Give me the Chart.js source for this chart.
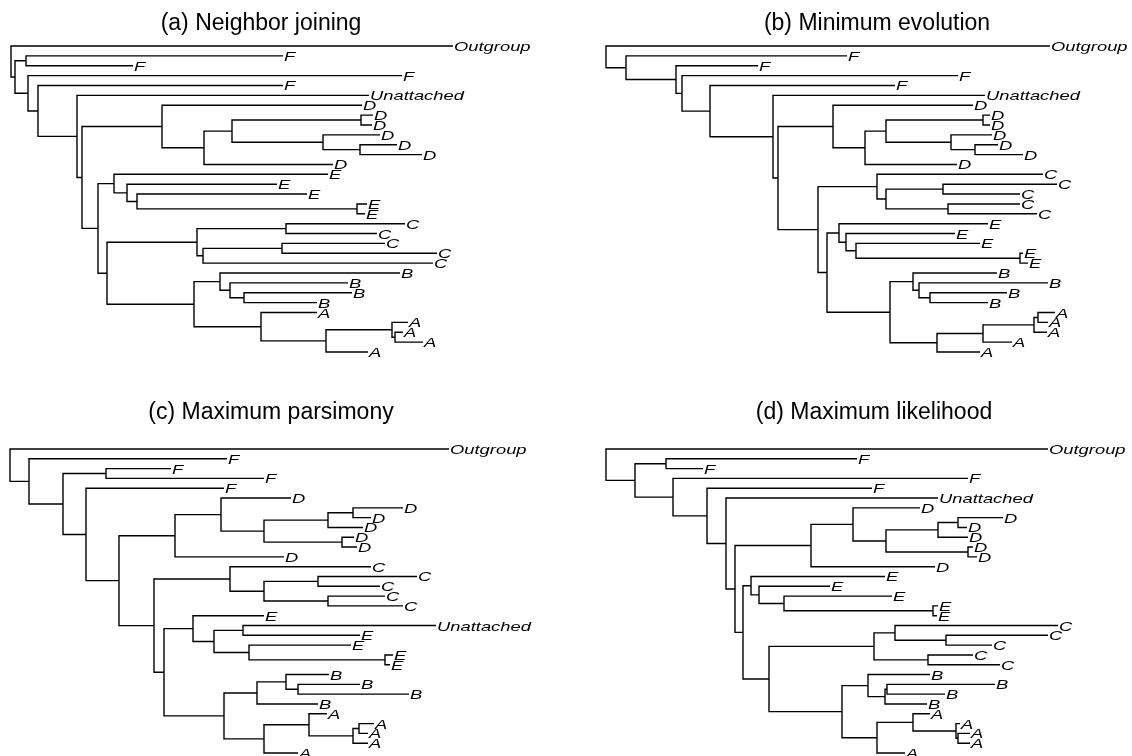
<!DOCTYPE html>
<html>
<head>
<meta charset="utf-8">
<script src="https://cdn.jsdelivr.net/npm/chart.js@4.4.1/dist/chart.umd.min.js"></script>
<style>
  html, body { margin: 0; padding: 0; background: #fff; overflow: hidden; }
  .panel { position: absolute; width: 566px; height: 378px; }
</style>
</head>
<body>
<div class="panel" style="left:0;top:0"><canvas id="treeA" width="566" height="378"></canvas></div>
<div class="panel" style="left:566px;top:0"><canvas id="treeB" width="566" height="378"></canvas></div>
<div class="panel" style="left:0;top:378px"><canvas id="treeC" width="566" height="378"></canvas></div>
<div class="panel" style="left:566px;top:378px"><canvas id="treeD" width="566" height="378"></canvas></div>
<script>
var titles = ['(a) Neighbor joining', '(b) Minimum evolution', '(c) Maximum parsimony', '(d) Maximum likelihood'];

// edge tables: [node, parent, depth from root]
// internal nodes are n0..n30, everything else is a tip label; children keep row order
var treeNJ = [
  ['n0', null, 0],
  ['Outgroup', 'n0', 442],
  ['n1', 'n0', 4],
  ['n2', 'n1', 15], ['F', 'n2', 272], ['F', 'n2', 122],
  ['n3', 'n1', 17], ['F', 'n3', 391],
  ['n4', 'n3', 27], ['F', 'n4', 272],
  ['n5', 'n4', 66], ['Unattached', 'n5', 358],
  ['n6', 'n5', 71],
  ['n7', 'n6', 151], ['D', 'n7', 351],
  ['n9', 'n7', 193],
  ['n10', 'n9', 221],
  ['n11', 'n10', 350], ['D', 'n11', 362], ['D', 'n11', 361],
  ['n12', 'n10', 312], ['D', 'n12', 369],
  ['n13', 'n12', 349], ['D', 'n13', 386], ['D', 'n13', 411],
  ['D', 'n9', 322],
  ['n8', 'n6', 87],
  ['n14', 'n8', 103], ['E', 'n14', 317],
  ['n16', 'n14', 116], ['E', 'n16', 266],
  ['n17', 'n16', 126], ['E', 'n17', 296],
  ['n18', 'n17', 346], ['E', 'n18', 356], ['E', 'n18', 354],
  ['n15', 'n8', 96],
  ['n19', 'n15', 186],
  ['n21', 'n19', 275], ['C', 'n21', 394], ['C', 'n21', 366],
  ['n22', 'n19', 192],
  ['n23', 'n22', 271], ['C', 'n23', 374], ['C', 'n23', 426],
  ['C', 'n22', 422],
  ['n20', 'n15', 183],
  ['n24', 'n20', 209], ['B', 'n24', 389],
  ['n26', 'n24', 219], ['B', 'n26', 337],
  ['n27', 'n26', 233], ['B', 'n27', 341], ['B', 'n27', 306],
  ['n25', 'n20', 250], ['A', 'n25', 306],
  ['n28', 'n25', 315],
  ['n29', 'n28', 381], ['A', 'n29', 397],
  ['n30', 'n29', 384], ['A', 'n30', 392], ['A', 'n30', 412],
  ['A', 'n28', 357]
];

var treeME = [
  ['n0', null, 0],
  ['Outgroup', 'n0', 444],
  ['n1', 'n0', 20], ['F', 'n1', 241],
  ['n2', 'n1', 70], ['F', 'n2', 152],
  ['n3', 'n2', 76], ['F', 'n3', 352],
  ['n4', 'n3', 104], ['F', 'n4', 289],
  ['n5', 'n4', 167], ['Unattached', 'n5', 379],
  ['n6', 'n5', 172],
  ['n7', 'n6', 227], ['D', 'n7', 367],
  ['n9', 'n7', 259],
  ['n10', 'n9', 280],
  ['n11', 'n10', 377], ['D', 'n11', 384], ['D', 'n11', 384],
  ['n12', 'n10', 345], ['D', 'n12', 386],
  ['n13', 'n12', 369], ['D', 'n13', 392], ['D', 'n13', 417],
  ['D', 'n9', 351],
  ['n8', 'n6', 212],
  ['n14', 'n8', 271], ['C', 'n14', 437],
  ['n16', 'n14', 280],
  ['n17', 'n16', 337], ['C', 'n17', 451], ['C', 'n17', 414],
  ['n18', 'n16', 342], ['C', 'n18', 414], ['C', 'n18', 431],
  ['n15', 'n8', 221],
  ['n19', 'n15', 233], ['E', 'n19', 382],
  ['n21', 'n19', 240], ['E', 'n21', 349],
  ['n22', 'n21', 250], ['E', 'n22', 374],
  ['n23', 'n22', 414], ['E', 'n23', 417], ['E', 'n23', 422],
  ['n20', 'n15', 284],
  ['n24', 'n20', 307], ['B', 'n24', 391],
  ['n26', 'n24', 313], ['B', 'n26', 442],
  ['n27', 'n26', 324], ['B', 'n27', 401], ['B', 'n27', 382],
  ['n25', 'n20', 331],
  ['n28', 'n25', 377],
  ['n29', 'n28', 428],
  ['n30', 'n29', 432], ['A', 'n30', 449], ['A', 'n30', 442],
  ['A', 'n29', 441],
  ['A', 'n28', 406],
  ['A', 'n25', 374]
];

var treeMP = [
  ['n0', null, 0],
  ['Outgroup', 'n0', 439],
  ['n1', 'n0', 19], ['F', 'n1', 217],
  ['n2', 'n1', 53],
  ['n3', 'n2', 96], ['F', 'n3', 161], ['F', 'n3', 254],
  ['n4', 'n2', 76], ['F', 'n4', 214],
  ['n5', 'n4', 109],
  ['n6', 'n5', 165],
  ['n8', 'n6', 211], ['D', 'n8', 281],
  ['n9', 'n8', 254],
  ['n10', 'n9', 318],
  ['n12', 'n10', 343], ['D', 'n12', 393], ['D', 'n12', 361],
  ['D', 'n10', 353],
  ['n11', 'n9', 332], ['D', 'n11', 344], ['D', 'n11', 347],
  ['D', 'n6', 274],
  ['n7', 'n5', 144],
  ['n13', 'n7', 220], ['C', 'n13', 361],
  ['n15', 'n13', 254],
  ['n16', 'n15', 308], ['C', 'n16', 407], ['C', 'n16', 370],
  ['n17', 'n15', 318], ['C', 'n17', 375], ['C', 'n17', 393],
  ['n14', 'n7', 154],
  ['n18', 'n14', 183], ['E', 'n18', 254],
  ['n20', 'n18', 204],
  ['n21', 'n20', 233], ['Unattached', 'n21', 426], ['E', 'n21', 350],
  ['n22', 'n20', 239], ['E', 'n22', 341],
  ['n23', 'n22', 375], ['E', 'n23', 383], ['E', 'n23', 380],
  ['n19', 'n14', 214],
  ['n24', 'n19', 247],
  ['n26', 'n24', 276], ['B', 'n26', 319],
  ['n27', 'n26', 288], ['B', 'n27', 350], ['B', 'n27', 399],
  ['B', 'n24', 308],
  ['n25', 'n19', 254],
  ['n28', 'n25', 299], ['A', 'n28', 317],
  ['n29', 'n28', 343],
  ['n30', 'n29', 349], ['A', 'n30', 364], ['A', 'n30', 358],
  ['A', 'n29', 358],
  ['A', 'n25', 288]
];

var treeML = [
  ['n0', null, 0],
  ['Outgroup', 'n0', 442],
  ['n1', 'n0', 29],
  ['n2', 'n1', 60], ['F', 'n2', 251], ['F', 'n2', 97],
  ['n3', 'n1', 67], ['F', 'n3', 362],
  ['n4', 'n3', 101], ['F', 'n4', 266],
  ['n5', 'n4', 120], ['Unattached', 'n5', 332],
  ['n6', 'n5', 129],
  ['n7', 'n6', 205],
  ['n9', 'n7', 247], ['D', 'n9', 314],
  ['n10', 'n9', 280],
  ['n11', 'n10', 332],
  ['n13', 'n11', 352], ['D', 'n13', 397], ['D', 'n13', 361],
  ['D', 'n11', 362],
  ['n12', 'n10', 362], ['D', 'n12', 367], ['D', 'n12', 371],
  ['D', 'n7', 329],
  ['n8', 'n6', 137],
  ['n14', 'n8', 145], ['E', 'n14', 279],
  ['n16', 'n14', 153], ['E', 'n16', 224],
  ['n17', 'n16', 178], ['E', 'n17', 286],
  ['n18', 'n17', 327], ['E', 'n18', 332], ['E', 'n18', 331],
  ['n15', 'n8', 163],
  ['n19', 'n15', 268],
  ['n21', 'n19', 289], ['C', 'n21', 452],
  ['n23', 'n21', 340], ['C', 'n23', 442], ['C', 'n23', 386],
  ['n22', 'n19', 322], ['C', 'n22', 367], ['C', 'n22', 394],
  ['n20', 'n15', 236],
  ['n24', 'n20', 262], ['B', 'n24', 324],
  ['n26', 'n24', 279],
  ['n27', 'n26', 281], ['B', 'n27', 389], ['B', 'n27', 339],
  ['B', 'n26', 321],
  ['n25', 'n20', 271],
  ['n28', 'n25', 307], ['A', 'n28', 324],
  ['n29', 'n28', 350], ['A', 'n29', 354],
  ['n30', 'n29', 352], ['A', 'n30', 364], ['A', 'n30', 364],
  ['A', 'n25', 299]
];

// where each panel sits inside its 566x378 canvas
var panels = [
  { id: 'treeA', tree: treeNJ, rootPx: 11, tipTop: 46, tipBot: 352, titleCx: 261, titleBase: 32 },
  { id: 'treeB', tree: treeME, rootPx: 40, tipTop: 46, tipBot: 352, titleCx: 311, titleBase: 32 },
  { id: 'treeC', tree: treeMP, rootPx: 10, tipTop: 71, tipBot: 375, titleCx: 271, titleBase: 43 },
  { id: 'treeD', tree: treeML, rootPx: 40, tipTop: 71, tipBot: 375, titleCx: 308, titleBase: 43 }
];

var W = 566, H = 378, titleSize = 23;

function buildTree(rows) {
  var byName = {}, root = null;
  rows.forEach(function (r) {
    var node = { name: r[0], x: r[2], children: [] };
    if (r[1] === null) root = node;
    else byName[r[1]].children.push(node);
    byName[r[0]] = node;
  });
  return root;
}

// tips get y = 1..n top to bottom, a node sits halfway between its first and last child
function layout(node, tips, segs) {
  if (!node.children.length) {
    node.y = tips.length + 1;
    tips.push(node);
    return node;
  }
  node.children.forEach(function (c) { layout(c, tips, segs); });
  var kids = node.children, first = kids[0], last = kids[kids.length - 1];
  node.y = (first.y + last.y) / 2;
  segs.push({ x: first.x, y: first.y }, { x: node.x, y: first.y }, { x: node.x, y: last.y }, { x: last.x, y: last.y }, { x: null, y: null });
  for (var i = 1; i < kids.length - 1; i++) {
    segs.push({ x: node.x, y: kids[i].y }, { x: kids[i].x, y: kids[i].y }, { x: null, y: null });
  }
  return node;
}

function labelPlugin(tips) {
  return {
    id: 'tipLabels',
    afterDatasetsDraw: function (chart) {
      var ctx = chart.ctx, xs = chart.scales.x, ys = chart.scales.y;
      ctx.save();
      ctx.font = 'italic 13.5px "Liberation Sans", Arial, sans-serif';
      ctx.fillStyle = '#000';
      ctx.textBaseline = 'alphabetic';
      tips.forEach(function (t) {
        var px = xs.getPixelForValue(t.x) + 1;
        var py = ys.getPixelForValue(t.y) + 5;
        ctx.save();
        ctx.translate(px, py);
        ctx.scale(1.36, 1);
        ctx.fillText(t.name, 0, 0);
        ctx.restore();
      });
      ctx.restore();
    }
  };
}

panels.forEach(function (p, k) {
  var tips = [], segs = [];
  layout(buildTree(p.tree), tips, segs);

  var half = Math.min(p.titleCx, W - p.titleCx);
  var padL = p.titleCx - half, padR = W - (p.titleCx + half);
  var lh = titleSize * 1.2;
  var tTop = p.titleBase - 0.3465 * titleSize - lh / 2;
  var tBot = p.tipTop - tTop - lh;

  new Chart(document.getElementById(p.id).getContext('2d'), {
    type: 'line',
    data: {
      datasets: [{
        data: segs,
        borderColor: '#000',
        borderWidth: 1.4,
        borderJoinStyle: 'miter',
        pointRadius: 0,
        tension: 0,
        spanGaps: false,
        fill: false,
        clip: false
      }]
    },
    options: {
      responsive: false,
      animation: false,
      events: [],
      layout: { autoPadding: false, padding: { left: padL, right: padR, top: 0, bottom: H - p.tipBot } },
      scales: {
        x: { type: 'linear', display: false, min: padL - p.rootPx, max: p.titleCx + half - p.rootPx },
        y: { type: 'linear', display: false, min: 1, max: tips.length, reverse: true }
      },
      plugins: {
        legend: { display: false },
        tooltip: { enabled: false },
        title: {
          display: true,
          text: titles[k],
          color: '#000',
          font: { family: '"Liberation Sans", Arial, sans-serif', size: titleSize, weight: 'normal' },
          padding: { top: tTop, bottom: tBot }
        }
      }
    },
    plugins: [labelPlugin(tips)]
  });
});
</script>
</body>
</html>
